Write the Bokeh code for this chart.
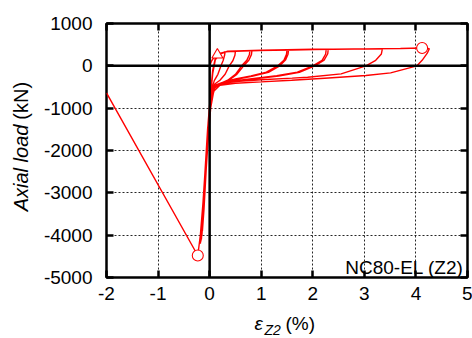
import numpy as np
from bokeh.plotting import figure
from bokeh.layouts import row, column
from bokeh.models import Range1d, LinearAxis, FixedTicker, Span, Label
from bokeh.core.properties import value
from bokeh.embed import file_html
from bokeh.resources import INLINE

# ---- tick values -------------------------------------------------------
x_ticks = [-2, -1, 0, 1, 2, 3, 4, 5]
y_ticks = [-5000, -4000, -3000, -2000, -1000, 0, 1000]
x_tick_labels = ["-2", "-1", "0", "1", "2", "3", "4", "5"]
y_tick_labels = ["-5000", "-4000", "-3000", "-2000", "-1000", "0", "1000"]

# ---- hysteresis record: strain eps_Z2 (%) vs axial load (kN), cycle by cycle
cycle_strain = [
    [0.00, 0.04, 0.09, 0.15, 0.22, 0.30, 0.29, 0.26, 0.22, 0.16, 0.09, 0.04, 0.01, -0.04, -0.09, -0.14],
    [-0.11, -0.06, -0.02, 0.02, 0.06, 0.11, 0.18, 0.30, 0.50, 0.49, 0.45, 0.38, 0.30, 0.20, 0.10, 0.05, 0.015, -0.04, -0.10, -0.15],
    [-0.12, -0.07, -0.02, 0.02, 0.06, 0.11, 0.18, 0.35, 0.60, 0.78, 0.77, 0.72, 0.62, 0.50, 0.35, 0.20, 0.10, 0.05, 0.015, -0.04, -0.10, -0.16],
    [-0.13, -0.07, -0.02, 0.02, 0.06, 0.11, 0.18, 0.35, 0.60, 0.82, 0.81, 0.76, 0.66, 0.52, 0.36, 0.20, 0.10, 0.05, 0.015, -0.04, -0.11, -0.16],
    [-0.13, -0.07, -0.02, 0.02, 0.06, 0.11, 0.18, 0.35, 0.80, 1.20, 1.50, 1.49, 1.44, 1.32, 1.10, 0.80, 0.50, 0.25, 0.12, 0.06, 0.02, -0.05, -0.11, -0.17],
    [-0.14, -0.08, -0.03, 0.02, 0.06, 0.11, 0.18, 0.35, 0.80, 1.20, 1.53, 1.52, 1.47, 1.36, 1.14, 0.82, 0.52, 0.26, 0.13, 0.06, 0.02, -0.05, -0.11, -0.17],
    [-0.14, -0.08, -0.03, 0.02, 0.06, 0.11, 0.18, 0.35, 0.90, 1.60, 2.26, 2.25, 2.18, 2.00, 1.70, 1.30, 0.90, 0.50, 0.20, 0.09, 0.03, -0.05, -0.12, -0.18],
    [-0.15, -0.09, -0.03, 0.02, 0.06, 0.11, 0.18, 0.35, 0.90, 1.60, 2.30, 2.29, 2.22, 2.04, 1.74, 1.34, 0.92, 0.52, 0.21, 0.09, 0.03, -0.05, -0.12, -0.18],
    [-0.15, -0.09, -0.03, 0.02, 0.06, 0.11, 0.18, 0.35, 1.00, 2.00, 2.80, 3.35, 3.33, 3.22, 3.03, 2.55, 1.90, 1.60, 1.00, 0.50, 0.20, 0.10, 0.03, -0.06, -0.13, -0.19],
    [-0.16, -0.10, -0.04, 0.02, 0.06, 0.11, 0.18, 0.35, 1.00, 2.00, 3.00, 3.70, 4.12, 4.26, 4.22, 4.12, 4.02, 3.51, 3.03, 2.23, 1.59, 1.00, 0.50, 0.20, 0.08, 0.02, -0.08, -0.18, -0.23, -2.00],
]
cycle_load = [
    [0, 120, 210, 260, 300, 330, 250, 120, 0, -200, -350, -550, -900, -1700, -2800, -3900],
    [-3400, -2300, -1300, -600, -100, 180, 290, 330, 345, 250, 120, 0, -200, -340, -430, -600, -1000, -1900, -3000, -4000],
    [-3500, -2400, -1300, -600, -100, 180, 290, 335, 350, 355, 260, 130, 0, -200, -340, -420, -470, -650, -1050, -1950, -3050, -4050],
    [-3550, -2400, -1300, -600, -100, 180, 290, 335, 352, 360, 265, 130, 0, -210, -350, -430, -480, -660, -1060, -1960, -3200, -4100],
    [-3600, -2450, -1350, -620, -120, 170, 285, 340, 355, 365, 375, 270, 130, 0, -150, -240, -310, -390, -450, -560, -850, -1900, -3100, -4100],
    [-3650, -2500, -1350, -620, -120, 170, 285, 340, 357, 367, 380, 275, 135, 0, -155, -250, -320, -400, -460, -580, -870, -1900, -3100, -4150],
    [-3700, -2550, -1400, -640, -140, 160, 280, 342, 362, 375, 390, 280, 130, 0, -150, -230, -290, -350, -420, -520, -820, -1850, -3150, -4150],
    [-3750, -2600, -1400, -640, -140, 160, 280, 342, 365, 378, 395, 285, 135, 0, -155, -240, -300, -360, -430, -530, -840, -1850, -3150, -4200],
    [-3800, -2650, -1450, -660, -160, 150, 275, 345, 368, 385, 398, 405, 280, 130, 0, -190, -268, -290, -330, -370, -430, -520, -850, -1950, -3250, -4200],
    [-3850, -2700, -1500, -680, -180, 140, 270, 345, 370, 390, 400, 410, 420, 405, 300, 130, 0, -166, -230, -292, -340, -380, -410, -460, -600, -1000, -2500, -4000, -4480, -640],
]
strain = [v for c in cycle_strain for v in c]
load = [v for c in cycle_load for v in c]

# marked states: peak tension, peak compression, yield
peak_strain, peak_load = [4.12, -0.23], [420, -4480]
yield_strain, yield_load = [0.15], [260]

FONT = "Liberation Sans"

# overall page: 472 x 338; a 40 px strip on the left holds the y title,
# a strip at the bottom holds the x title
TOTAL_W, TOTAL_H = 472, 338
LEFT_W = 40
MAIN_H = 309

p = figure(width=TOTAL_W - LEFT_W, height=MAIN_H, output_backend="svg", toolbar_location=None,
           x_range=Range1d(-2, 5), y_range=Range1d(-5000, 1000),
           min_border_left=104 - LEFT_W, min_border_right=5,
           min_border_top=23, min_border_bottom=MAIN_H - 23 - 254,
           background_fill_color="white", border_fill_color="white")

p.outline_line_color = "black"
p.outline_line_width = 2.5

def style_axis(ax, ticks, labels, show):
    ax.ticker = FixedTicker(ticks=ticks)
    ax.major_label_overrides = {t: l for t, l in zip(ticks, labels)}
    ax.axis_line_color = None
    ax.major_tick_in = 7
    ax.major_tick_out = 0
    ax.major_tick_line_width = 2.5
    ax.major_tick_line_color = "black"
    ax.minor_tick_line_color = None
    ax.major_label_text_font = FONT
    if show:
        ax.major_label_text_font_size = "19px"
        ax.major_label_text_color = "black"
    else:
        # tick marks only on the opposite frame edges
        ax.major_label_text_font_size = "1px"
        ax.major_label_text_color = None
        ax.major_label_standoff = 0

style_axis(p.xaxis[0], x_ticks, x_tick_labels, True)
style_axis(p.yaxis[0], y_ticks, y_tick_labels, True)
p.xaxis[0].major_label_standoff = 9
p.yaxis[0].major_label_standoff = 14

top_axis = LinearAxis()
right_axis = LinearAxis()
style_axis(top_axis, x_ticks, x_tick_labels, False)
style_axis(right_axis, y_ticks, y_tick_labels, False)
p.add_layout(top_axis, "above")
p.add_layout(right_axis, "right")

p.xgrid.ticker = FixedTicker(ticks=x_ticks)
p.ygrid.ticker = FixedTicker(ticks=y_ticks)
for g in (p.xgrid, p.ygrid):
    g.grid_line_color = "black"
    g.grid_line_dash = "2 2"
    g.grid_line_width = 1
    g.grid_line_alpha = 0.85

p.add_layout(Span(location=0, dimension="height", line_color="black", line_width=2.5))
p.add_layout(Span(location=0, dimension="width", line_color="black", line_width=2.5))

p.line(strain, load, line_color="red", line_width=1.4)
p.scatter(peak_strain, peak_load, marker="circle", size=11,
          fill_color="white", line_color="red", line_width=1.1)
p.scatter(yield_strain, yield_load, marker="triangle", size=11,
          fill_color="white", line_color="red", line_width=1.1)

p.add_layout(Label(x=357, y=10, x_units="screen", y_units="screen", text="NC80-EL (Z2)",
                   text_align="right", text_baseline="alphabetic", text_font=FONT,
                   text_font_size="19px", text_color="black"))


def strip(width, height, x0, x1, y_top, y_bottom):
    """Axis-free panel whose data units are page pixels (y growing downwards)."""
    f = figure(width=width, height=height, output_backend="svg", toolbar_location=None,
               x_range=Range1d(x0, x1), y_range=Range1d(y_bottom, y_top),
               x_axis_location=None, y_axis_location=None,
               min_border=0, background_fill_color="white", border_fill_color="white")
    f.outline_line_color = None
    f.grid.visible = False
    return f

# y title reading bottom to top: italic quantity ends where the upright unit begins
ytitle = strip(LEFT_W, MAIN_H, 0, LEFT_W, 0, MAIN_H)
ytitle.text(x=[20], y=[123], text=["Axial load"], angle=np.pi / 2,
            text_align="right", text_baseline="middle", text_font=value(FONT),
            text_font_size="20px", text_font_style="italic", text_color="black")
ytitle.text(x=[20], y=[117], text=["(kN)"], angle=np.pi / 2,
            text_align="left", text_baseline="middle", text_font=value(FONT),
            text_font_size="20px", text_color="black")

# x title: epsilon with subscript Z2, then the unit
xtitle = strip(TOTAL_W, TOTAL_H - MAIN_H, 0, TOTAL_W, MAIN_H, TOTAL_H)
xtitle.text(x=[254], y=[323], text=["\u03b5"], text_align="left",
            text_baseline="alphabetic", text_font=value(FONT), text_font_size="19px",
            text_font_style="italic", text_color="black")
xtitle.text(x=[264], y=[329], text=["Z2"], text_align="left",
            text_baseline="alphabetic", text_font=value(FONT), text_font_size="14px",
            text_font_style="italic", text_color="black")
xtitle.text(x=[285], y=[323], text=["(%)"], text_align="left",
            text_baseline="alphabetic", text_font=value(FONT), text_font_size="19px",
            text_color="black")

layout = column(row(ytitle, p, spacing=0), xtitle, spacing=0)

open("out.html", "w").write(file_html(layout, INLINE))
